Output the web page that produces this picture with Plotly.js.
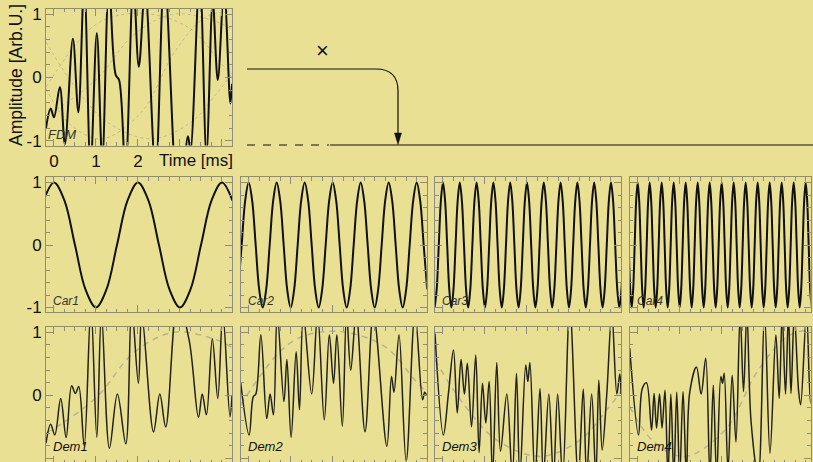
<!DOCTYPE html>
<html><head><meta charset="utf-8">
<script src="https://cdn.plot.ly/plotly-3.0.1.min.js"></script>
<style>html,body{margin:0;padding:0;overflow:hidden;background:#E9E093;}#plot{width:818px;height:465px;}</style>
</head><body><div id="plot"></div>
<script>
// ---------------- data ----------------
// time axis in ms
const fdmT = [-0.19,-0.08,0.0,0.14,0.26,0.45,0.58,0.72,0.87,1.02,1.15,1.31,1.47,1.55,1.70,1.89,2.02,2.17,2.42,2.63,2.97,3.19,3.25,3.47,3.63,3.78,3.90,4.05,4.20,4.24];
const fdmY = [-0.8,-0.49,-0.63,-0.15,-1.05,0.61,-0.55,1.5,-1.4,0.70,-1.3,1.5,0.04,-0.04,-1.5,1.5,0.17,1.4,-1.5,1.6,-2.2,-0.93,-1.15,1.6,-1.2,1.2,-0.04,1.4,-0.41,-0.1];

// carriers: sampled every 1/8 period
const car1X0 = -0.25, car1Dx = 0.25;
const car1Y = [0.71,1,0.71,0,-0.71,-1,-0.71,0,0.71,1,0.71,0,-0.71,-1,-0.71,0,0.71,1,0.71];
const car2X0 = -0.25, car2Dx = 1/12;
const car2Y = [-0.71,0,0.71,
 1,0.71,0,-0.71,-1,-0.71,0,0.71, 1,0.71,0,-0.71,-1,-0.71,0,0.71, 1,0.71,0,-0.71,-1,-0.71,0,0.71,
 1,0.71,0,-0.71,-1,-0.71,0,0.71, 1,0.71,0,-0.71,-1,-0.71,0,0.71, 1,0.71,0,-0.71,-1,-0.71,0,0.71,
 1,0.71,0,-0.71];
const car3X0 = -0.2, car3Dx = 0.05;
const car3Y = [-1,-0.71,0,0.71,
 1,0.71,0,-0.71,-1,-0.71,0,0.71, 1,0.71,0,-0.71,-1,-0.71,0,0.71, 1,0.71,0,-0.71,-1,-0.71,0,0.71,
 1,0.71,0,-0.71,-1,-0.71,0,0.71, 1,0.71,0,-0.71,-1,-0.71,0,0.71, 1,0.71,0,-0.71,-1,-0.71,0,0.71,
 1,0.71,0,-0.71,-1,-0.71,0,0.71, 1,0.71,0,-0.71,-1,-0.71,0,0.71, 1,0.71,0,-0.71,-1,-0.71,0,0.71,
 1,0.71,0,-0.71,-1,-0.71,0,0.71, 1,0.71,0,-0.71,-1,-0.71,0,0.71];
const car4X0 = -3/14, car4Dx = 1/28;
const car4Y = [0,-0.71,-1,-0.71,0,0.71,
 1,0.71,0,-0.71,-1,-0.71,0,0.71, 1,0.71,0,-0.71,-1,-0.71,0,0.71, 1,0.71,0,-0.71,-1,-0.71,0,0.71,
 1,0.71,0,-0.71,-1,-0.71,0,0.71, 1,0.71,0,-0.71,-1,-0.71,0,0.71, 1,0.71,0,-0.71,-1,-0.71,0,0.71,
 1,0.71,0,-0.71,-1,-0.71,0,0.71, 1,0.71,0,-0.71,-1,-0.71,0,0.71, 1,0.71,0,-0.71,-1,-0.71,0,0.71,
 1,0.71,0,-0.71,-1,-0.71,0,0.71, 1,0.71,0,-0.71,-1,-0.71,0,0.71, 1,0.71,0,-0.71,-1,-0.71,0,0.71,
 1,0.71,0,-0.71,-1,-0.71,0,0.71, 1,0.71,0,-0.71,-1,-0.71,0,0.71, 1,0.71,0,-0.71,-1,-0.71,0,0.71];

// demodulated signals
const dem1T = [-0.19,-0.08,0.02,0.16,0.29,0.42,0.51,0.59,0.72,0.88,1.02,1.13,1.32,1.51,1.71,1.85,2.01,2.09,2.37,2.52,2.66,2.95,3.22,3.44,3.53,3.63,3.77,3.90,4.02,4.19,4.24];
const dem1Y = [-0.76,-0.46,-0.63,-0.05,-0.67,0.15,0.03,0.14,-0.80,1.4,-0.67,1.3,-0.84,0.02,-0.77,1.4,0.19,1.3,-0.58,0.02,-0.50,1.5,0.87,-0.35,0.02,-0.31,0.90,-0.05,1.3,-0.34,0.0];
const dem2T = [-0.19,0.01,0.11,0.17,0.29,0.43,0.51,0.59,0.68,0.84,0.91,1.01,1.13,1.21,1.30,1.50,1.64,1.80,1.92,2.02,2.10,2.23,2.33,2.43,2.56,2.77,2.97,3.29,3.40,3.46,3.58,3.75,3.96,4.14,4.19,4.24];
const dem2Y = [0.2,-0.63,-0.02,0.02,0.96,-0.37,0.02,-0.31,1.3,-0.10,0.57,-0.67,0.69,-0.23,1.3,0.02,1.3,-0.39,0.96,0.19,0.96,-0.49,1.3,0.4,1.3,-0.58,1.3,-0.81,0.3,0.05,0.96,-1.05,1.3,-0.07,0.05,0.0];
const dem3T = [-0.19,0.01,0.13,0.25,0.34,0.43,0.51,0.58,0.68,0.78,0.86,0.94,1.02,1.10,1.18,1.28,1.37,1.52,1.65,1.75,1.83,1.97,2.02,2.07,2.19,2.31,2.39,2.52,2.63,2.73,2.85,3.02,3.22,3.34,3.42,3.54,3.64,3.71,3.79,3.90,4.02,4.14,4.21,4.24];
const dem3Y = [0.98,-0.63,0.03,0.72,-0.28,0.57,0.02,0.51,-0.50,0.64,-0.91,0.19,-0.44,0.22,-1.3,0.52,-0.89,0.02,-1.3,0.35,-1.3,0.48,0.22,0.52,-1.3,0.11,-1.3,0.02,-1.3,0.02,-1.3,1.4,-1.3,0.10,-1.3,0.02,-1.3,0.24,-0.87,0.02,1.3,0.02,0.34,0.02];
const dem4T = [-0.19,0.02,0.11,0.21,0.33,0.39,0.45,0.52,0.58,0.65,0.72,0.79,0.86,0.93,1.0,1.08,1.16,1.24,1.40,1.51,1.62,1.72,1.80,1.88,1.98,2.02,2.06,2.15,2.25,2.34,2.44,2.52,2.60,2.70,2.87,3.02,3.15,3.29,3.37,3.44,3.52,3.59,3.65,3.73,3.83,3.88,4.02,4.12,4.18,4.24];
const dem4Y = [0.75,-0.63,0.11,0.2,-0.55,0.03,-0.52,0.02,-0.52,0.08,-1.3,0.02,-1.3,0.05,-1.3,0.06,-1.3,0.05,0.45,0.02,0.59,-1.3,0.16,-1.3,0.30,0.19,0.35,-1.2,0.32,-0.74,1.3,0.06,1.3,-0.42,-1.3,1.3,-0.92,0.96,-0.05,1.3,0.02,1.3,0.03,1.3,0.08,-0.15,1.3,-0.13,0.1,0.0];

// slowly varying messages (grey dashed)
const msg1T = [-0.19,0.3,1.06,1.89,2.84,3.79,4.24];
const msg1Y = [-0.6,-0.4,0.0,0.67,1.0,0.9,0.76];
const msg2T = [-0.19,0.71,1.26,2.21,3.25,3.96,4.24];
const msg2Y = [-0.15,0.67,0.93,1.01,0.77,0.24,0.05];
const msg3T = [-0.19,0.48,1.28,2.31,3.26,3.90,4.24];
const msg3Y = [0.56,-0.13,-0.71,-0.97,-0.71,-0.23,0.06];
const msg4T = [-0.19,0.4,1.13,2.08,2.87,3.6,4.24];
const msg4Y = [-0.18,-0.75,-0.97,-0.55,0.40,0.95,1.05];

const yTickVals = [-1,0,1];
const yTickText = ['-1','0','1'];
const xTickVals = [0,1,2,3,4];
const xTickText = ['0','1','2','',''];
const panelNames = ['FDM','Car1','Car2','Car3','Car4','Dem1','Dem2','Dem3','Dem4'];

// ---------------- layout ----------------
const W = 818, H = 465;
const colPx = [[46,232],[240.7,426.7],[435,621],[629.7,810.5]];
const rowPx = [[8.8,145.5],[177.2,312.2],[327,463]];
const PXPERMS = 42, XMIN = -0.19;
const px = x => x / W, py = y => 1 - y / H;
const FONT = 'Liberation Sans, Arial, Helvetica, sans-serif';
const FRAME = '#8c8c84';

// panel -> [col,row]
const pos = [[0,0],[0,1],[1,1],[2,1],[3,1],[0,2],[1,2],[2,2],[3,2]];

const layout = {
  width: W, height: H,
  margin: {l:0,r:0,t:0,b:0,pad:0},
  paper_bgcolor: '#E9E093', plot_bgcolor: '#E9E093',
  showlegend: false,
  font: {family: FONT, color: '#111', size: 17},
  annotations: [], shapes: []
};

pos.forEach((p, i) => {
  const n = i + 1;
  const c = colPx[p[0]], r = rowPx[p[1]];
  const firstCol = p[0] === 0;
  const xmax = XMIN + (c[1] - c[0]) / PXPERMS;
  layout['xaxis' + (n === 1 ? '' : n)] = {
    domain: [px(c[0]), px(c[1])], anchor: 'y' + (n === 1 ? '' : n),
    range: [XMIN, xmax], fixedrange: true,
    showline: true, linecolor: FRAME, linewidth: 1, mirror: 'allticks',
    ticks: 'inside', ticklen: 7, tickcolor: FRAME, tickwidth: 1,
    tickmode: 'array', tickvals: xTickVals, ticktext: xTickText,
    showticklabels: n === 1, tickfont: {size: 17, color: '#111'},
    showgrid: false, zeroline: false,
    minor: {tickmode: 'linear', tick0: 0, dtick: 0.25, ticks: 'inside', ticklen: 3.5, tickcolor: FRAME, showgrid: false}
  };
  layout['yaxis' + (n === 1 ? '' : n)] = {
    domain: [py(r[1]), py(r[0])], anchor: 'x' + (n === 1 ? '' : n),
    range: [-1.075, 1.085], fixedrange: true,
    showline: true, linecolor: FRAME, linewidth: 1, mirror: 'allticks',
    ticks: 'inside', ticklen: 7, tickcolor: FRAME, tickwidth: 1,
    tickmode: 'array', tickvals: yTickVals, ticktext: yTickText,
    showticklabels: firstCol, tickfont: {size: 17, color: '#111'},
    showgrid: false, zeroline: false,
    minor: {tickmode: 'linear', tick0: 0, dtick: 0.2, ticks: 'inside', ticklen: 3.5, tickcolor: FRAME, showgrid: false}
  };
  const isDem = n >= 6;
  layout.annotations.push({
    xref: 'x' + (n === 1 ? '' : n) + ' domain', yref: 'y' + (n === 1 ? '' : n) + ' domain',
    x: 0, y: 0, xanchor: 'left', yanchor: 'bottom',
    xshift: n === 1 ? 0 : 5, yshift: isDem ? 7 : 2,
    text: '<i>' + panelNames[i] + '</i>', showarrow: false,
    font: {family: FONT, size: n === 1 ? 13 : (isDem ? 13 : 12), color: isDem ? '#111' : '#333'}
  });
});

layout.annotations.push({xref:'paper', yref:'paper', x:px(16), y:py(75), xanchor:'center', yanchor:'middle', text:'Amplitude [Arb.U.]', textangle:-90, showarrow:false, font:{size:17.5, color:'#111'}});
layout.annotations.push({xref:'paper', yref:'paper', x:px(196), y:py(160), xanchor:'center', yanchor:'middle', text:'Time [ms]', showarrow:false, font:{size:17, color:'#111'}});
layout.annotations.push({xref:'paper', yref:'paper', x:px(322), y:py(51), xanchor:'center', yanchor:'middle', text:'\u00d7', showarrow:false, font:{size:22, color:'#111'}});

// arrow & separator lines
layout.shapes.push({type:'path', xref:'paper', yref:'paper',
  path: `M ${px(247)} ${py(69)} L ${px(376)} ${py(69)} Q ${px(398)} ${py(69)} ${px(398)} ${py(91)} L ${px(398)} ${py(136)}`,
  line:{color:'#111', width:1.2}});
layout.shapes.push({type:'path', xref:'paper', yref:'paper',
  path: `M ${px(394.5)} ${py(133)} L ${px(401.5)} ${py(133)} L ${px(398)} ${py(144.5)} Z`,
  fillcolor:'#111', line:{color:'#111', width:0.5}});
layout.shapes.push({type:'line', xref:'paper', yref:'paper', x0:px(247), x1:px(329), y0:py(145), y1:py(145), line:{color:'#111', width:1.2, dash:'8px,8px'}});
layout.shapes.push({type:'line', xref:'paper', yref:'paper', x0:px(330), x1:px(W), y0:py(145), y1:py(145), line:{color:'#111', width:1.2}});

// ---------------- traces ----------------
const traces = [];
const ax = n => n === 1 ? ['x','y'] : ['x'+n, 'y'+n];
const msgs = [[msg1T,msg1Y],[msg2T,msg2Y],[msg3T,msg3Y],[msg4T,msg4Y]];
msgs.forEach(m => traces.push({x:m[0], y:m[1], xaxis:'x', yaxis:'y', mode:'lines', line:{shape:'spline', color:'rgba(140,140,140,0.45)', width:1, dash:'dot'}, hoverinfo:'skip'}));
traces.push({x:fdmT, y:fdmY, xaxis:'x', yaxis:'y', mode:'lines', line:{shape:'spline', smoothing:1, color:'#111', width:2}});

const cars = [[car1X0,car1Dx,car1Y],[car2X0,car2Dx,car2Y],[car3X0,car3Dx,car3Y],[car4X0,car4Dx,car4Y]];
cars.forEach((c, k) => {
  const a = ax(k + 2);
  traces.push({x0:c[0], dx:c[1], y:c[2], xaxis:a[0], yaxis:a[1], mode:'lines', line:{shape:'spline', smoothing:1, color:'#111', width:2}});
});

const dems = [[dem1T,dem1Y],[dem2T,dem2Y],[dem3T,dem3Y],[dem4T,dem4Y]];
dems.forEach((d, k) => {
  const a = ax(k + 6);
  traces.push({x:msgs[k][0], y:msgs[k][1], xaxis:a[0], yaxis:a[1], mode:'lines', line:{shape:'spline', color:'rgba(150,150,150,0.6)', width:1.5, dash:'6px,5px'}});
  traces.push({x:d[0], y:d[1], xaxis:a[0], yaxis:a[1], mode:'lines', line:{shape:'spline', smoothing:1, color:'#22221a', width:1.5}});
});

Plotly.newPlot('plot', traces, layout, {staticPlot:true, displayModeBar:false});
</script></body></html>
